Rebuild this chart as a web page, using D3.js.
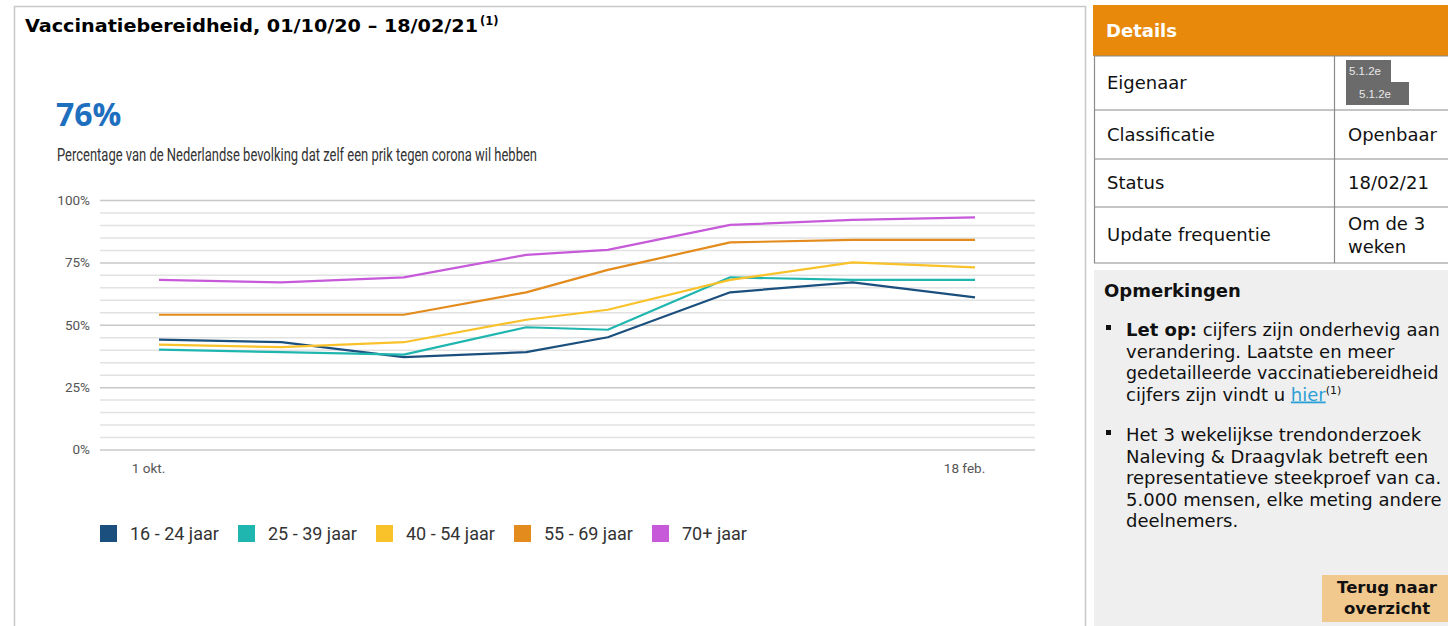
<!DOCTYPE html>
<html>
<head>
<meta charset="utf-8">
<script src="https://cdn.jsdelivr.net/npm/d3@7"></script>
<style>
  html, body { margin: 0; padding: 0; background: #fff; }
  svg { display: block; }
</style>
</head>
<body>
<svg id="chart" width="1448" height="626"></svg>
<script>
// ---------- DATA ----------
const dates = ["2020-10-01","2020-10-22","2020-11-12","2020-12-03","2020-12-17","2021-01-07","2021-01-28","2021-02-18"];
const seriesNames = ["16 - 24 jaar","25 - 39 jaar","40 - 54 jaar","55 - 69 jaar","70+ jaar"];
const seriesColors = ["#1b4f7e","#20b6b0","#f9c22a","#e38b1c","#c65ad9"];
const v16_24 = [44, 43, 37, 39, 45, 63, 67, 61];
const v25_39 = [40, 39, 38, 49, 48, 69, 68, 68];
const v40_54 = [42, 41, 43, 52, 56, 68, 75, 73];
const v55_69 = [54, 54, 54, 63, 72, 83, 84, 84];
const v70 = [68, 67, 69, 78, 80, 90, 92, 93];
const yTicks = [0, 25, 50, 75, 100];
const yGrid = d3.range(0, 101, 5);
const xTickDates = ["2020-10-01","2021-02-18"];
const xTickLabels = ["1 okt.","18 feb."];
const detailRows = [["Eigenaar",""],["Classificatie","Openbaar"],["Status","18/02/21"],["Update frequentie","Om de 3|weken"]];

const seriesValues = [v16_24, v25_39, v40_54, v55_69, v70];
const parse = d3.timeParse("%Y-%m-%d");
const dateObjs = dates.map(parse);

const svg = d3.select("#chart");
const chartFont = "'Liberation Sans Narrow', 'Roboto', 'Noto Sans', sans-serif";
const verdana = "'DejaVu Sans', Verdana, sans-serif";

// ---------- main frame ----------
svg.append("rect").attr("x",14.5).attr("y",6.5).attr("width",1071).attr("height",640)
  .attr("fill","#fff").attr("stroke","#c8c8c8").attr("stroke-width",1.5);

const title = svg.append("text").attr("x",25).attr("y",32)
  .attr("font-family",verdana).attr("font-weight","bold").attr("font-size",17.5).attr("fill","#000");
title.append("tspan").attr("textLength",453).attr("lengthAdjust","spacingAndGlyphs")
  .text("Vaccinatiebereidheid, 01/10/20 \u2013 18/02/21");
title.append("tspan").attr("font-size",11.5).attr("dx",2).attr("dy",-7).text("(1)");

svg.append("text").attr("x",56).attr("y",126).attr("font-family","'Open Sans', 'Noto Sans', sans-serif")
  .attr("font-weight","bold").attr("font-size",32).attr("fill","#1f6fbf").text("76%");

svg.append("text").attr("x",57).attr("y",161).attr("font-family",chartFont)
  .attr("font-size",17.5).attr("fill","#333").attr("textLength",480).attr("lengthAdjust","spacingAndGlyphs")
  .text("Percentage van de Nederlandse bevolking dat zelf een prik tegen corona wil hebben");

// ---------- scales ----------
const x = d3.scaleTime().domain([dateObjs[0], dateObjs[dateObjs.length-1]]).range([159, 975]);
const y = d3.scaleLinear().domain([0, 100]).range([449.5, 200]);
const gridX0 = 100, gridX1 = 1035;

// grid
const grid = svg.append("g").attr("transform",`translate(${gridX0},0)`)
  .call(d3.axisLeft(y).tickValues(yGrid).tickSize(-(gridX1-gridX0)).tickFormat(""));
grid.select(".domain").remove();
grid.selectAll(".tick line")
  .attr("stroke", d => d % 25 === 0 ? "#c8c8c8" : "#e2e2e2")
  .attr("stroke-width", 1.5);

// y labels
const yAx = svg.append("g").attr("transform",`translate(${gridX0},0)`)
  .call(d3.axisLeft(y).tickValues(yTicks).tickSize(0).tickPadding(10).tickFormat(d => d + "%"));
yAx.select(".domain").remove();
yAx.selectAll("text").attr("font-family",chartFont).attr("font-size",13.5).attr("fill","#555");

// x labels
const xAx = svg.append("g").attr("transform","translate(0,449.5)")
  .call(d3.axisBottom(x).tickValues(xTickDates.map(parse)).tickSize(0).tickPadding(14)
    .tickFormat((d,i) => xTickLabels[i]));
xAx.select(".domain").remove();
xAx.selectAll("text").attr("font-family",chartFont).attr("font-size",13.5).attr("fill","#555")
  .attr("dx",-11);

// lines
const line = d3.line().x((d,i) => x(dateObjs[i])).y(d => y(d));
svg.append("g").selectAll("path").data(seriesValues).join("path")
  .attr("d", line).attr("fill","none")
  .attr("stroke",(d,i) => seriesColors[i]).attr("stroke-width",2.2)
  .attr("stroke-linejoin","round");

// legend
const leg = svg.append("g").selectAll("g").data(seriesNames).join("g")
  .attr("transform",(d,i) => `translate(${100 + i*138},525)`);
leg.append("rect").attr("width",17).attr("height",17).attr("fill",(d,i) => seriesColors[i]);
leg.append("text").attr("x",30).attr("y",14.5).attr("font-family",chartFont).attr("font-size",18)
  .attr("fill","#333").text(d => d);

// ---------- right panel ----------
const pFont = 18;
svg.append("rect").attr("x",1094).attr("y",270).attr("width",360).attr("height",360).attr("fill","#efefef");
svg.append("rect").attr("x",1093).attr("y",5).attr("width",360).attr("height",51).attr("fill","#e8890c");
svg.append("text").attr("x",1106).attr("y",37).attr("font-family",verdana).attr("font-weight","bold")
  .attr("font-size",pFont).attr("fill","#fff").text("Details");

const rowEdges = [56, 110, 159, 207, 263];
const tbl = svg.append("g");
rowEdges.forEach(yy => tbl.append("line").attr("x1",1094).attr("x2",1448).attr("y1",yy).attr("y2",yy)
  .attr("stroke","#8a8a8a").attr("stroke-width",1.2));
tbl.append("line").attr("x1",1094.5).attr("x2",1094.5).attr("y1",56).attr("y2",263).attr("stroke","#8a8a8a").attr("stroke-width",1.2);
tbl.append("line").attr("x1",1334.5).attr("x2",1334.5).attr("y1",56).attr("y2",263).attr("stroke","#8a8a8a").attr("stroke-width",1.2);

detailRows.forEach((r,i) => {
  const cy = (rowEdges[i] + rowEdges[i+1]) / 2;
  tbl.append("text").attr("x",1107).attr("y",cy + 6).attr("font-family",verdana).attr("font-size",pFont)
    .attr("fill","#111").text(r[0]);
  const parts = r[1] ? r[1].split("|") : [];
  parts.forEach((p,j) => {
    tbl.append("text").attr("x",1348).attr("y",cy + 6 + (j - (parts.length-1)/2) * 23)
      .attr("font-family",verdana).attr("font-size",pFont).attr("fill","#111").text(p);
  });
});
// redacted owner
tbl.append("rect").attr("x",1346).attr("y",60).attr("width",45).attr("height",23).attr("fill","#6b6b6b");
tbl.append("rect").attr("x",1346).attr("y",82).attr("width",63).attr("height",23).attr("fill","#6b6b6b");
tbl.append("text").attr("x",1349).attr("y",75).attr("font-family","'Liberation Sans', Arial, sans-serif")
  .attr("font-size",11.5).attr("fill","#e8e8e8").text("5.1.2e");
tbl.append("text").attr("x",1359).attr("y",98).attr("font-family","'Liberation Sans', Arial, sans-serif")
  .attr("font-size",11.5).attr("fill","#e8e8e8").text("5.1.2e");

// Opmerkingen
const opm = svg.append("g").attr("font-family",verdana).attr("font-size",pFont).attr("fill","#111");
opm.append("text").attr("x",1104).attr("y",297).attr("font-weight","bold").text("Opmerkingen");
[330, 435].forEach(yy => opm.append("rect").attr("x",1106).attr("y",yy-5).attr("width",5).attr("height",5).attr("fill","#111"));
const l1 = opm.append("text").attr("x",1126).attr("y",336);
l1.append("tspan").attr("font-weight","bold").text("Let op:");
l1.append("tspan").text(" cijfers zijn onderhevig aan");
opm.append("text").attr("x",1126).attr("y",357.5).text("verandering. Laatste en meer");
opm.append("text").attr("x",1126).attr("y",379).attr("font-size",17.4)
  .text("gedetailleerde vaccinatiebereidheid");
const l4 = opm.append("text").attr("x",1126).attr("y",400.5);
l4.append("tspan").text("cijfers zijn vindt u ");
l4.append("tspan").attr("fill","#2b9fd6").attr("text-decoration","underline").text("hier");
l4.append("tspan").attr("font-size",11).attr("dy",-7).text("(1)");
["Het 3 wekelijkse trendonderzoek","Naleving & Draagvlak betreft een","representatieve steekproef van ca.",
 "5.000 mensen, elke meting andere","deelnemers."].forEach((t,i) =>
  opm.append("text").attr("x",1126).attr("y",441 + i*21.5).text(t));

// button
svg.append("rect").attr("x",1322).attr("y",575).attr("width",130).attr("height",47).attr("fill","#f1c88e");
svg.append("text").attr("x",1387).attr("y",593).attr("text-anchor","middle").attr("font-family",verdana)
  .attr("font-weight","bold").attr("font-size",16.5).attr("fill","#111").text("Terug naar");
svg.append("text").attr("x",1387).attr("y",614).attr("text-anchor","middle").attr("font-family",verdana)
  .attr("font-weight","bold").attr("font-size",16.5).attr("fill","#111").text("overzicht");
</script>
</body>
</html>
